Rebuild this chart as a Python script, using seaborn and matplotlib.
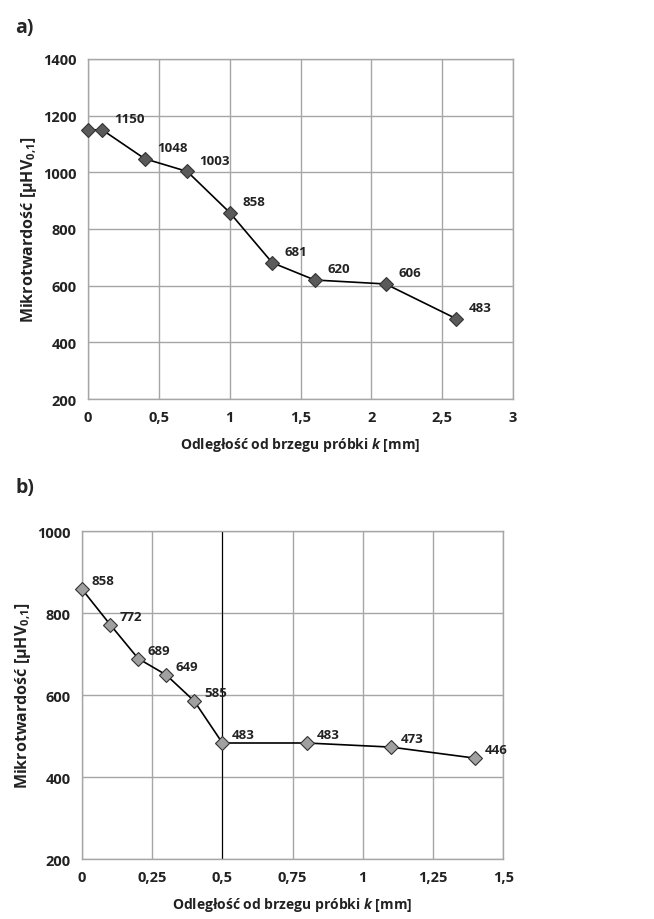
import pandas as pd
import seaborn as sns
import matplotlib.pyplot as plt

# panel a)
dist_a = [0, 0.1, 0.4, 0.7, 1.0, 1.3, 1.6, 2.1, 2.6]
hv_a = [1150, 1150, 1048, 1003, 858, 681, 620, 606, 483]
labels_a = ['', '1150', '1048', '1003', '858', '681', '620', '606', '483']
xticks_a = [0, 0.5, 1, 1.5, 2, 2.5, 3]
xticklabels_a = ['0', '0,5', '1', '1,5', '2', '2,5', '3']
yticks_a = [200, 400, 600, 800, 1000, 1200, 1400]

# panel b)
dist_b = [0, 0.1, 0.2, 0.3, 0.4, 0.5, 0.8, 1.1, 1.4]
hv_b = [858, 772, 689, 649, 585, 483, 483, 473, 446]
labels_b = ['858', '772', '689', '649', '585', '483', '483', '473', '446']
xticks_b = [0, 0.25, 0.5, 0.75, 1, 1.25, 1.5]
xticklabels_b = ['0', '0,25', '0,5', '0,75', '1', '1,25', '1,5']
yticks_b = [200, 400, 600, 800, 1000]

sns.set_style('whitegrid')
plt.rcParams['font.family'] = ['Open Sans', 'DejaVu Sans']
plt.rcParams['mathtext.fontset'] = 'custom'
plt.rcParams['mathtext.rm'] = 'Open Sans:bold'
plt.rcParams['mathtext.it'] = 'Open Sans:italic:bold'

fig = plt.figure(figsize=(6.54, 9.2), dpi=100)
ax_a = fig.add_axes([0.1346, 0.5652, 0.650, 0.3696])
ax_b = fig.add_axes([0.1254, 0.0652, 0.644, 0.3565])

ylabel = r'Mikrotwardość [μHV$_{\mathrm{0{,}1}}$]'
xlabel = r'Odległość od brzegu próbki $k$ [mm]'


def draw_panel(ax, x, y, labels, xticks, xticklabels, yticks, face, offset):
    df = pd.DataFrame({'x': x, 'y': y})
    sns.lineplot(data=df, x='x', y='y', ax=ax, color='black', lw=1.2,
                 marker='D', markersize=7, markerfacecolor=face,
                 markeredgecolor='#333333', markeredgewidth=0.8, clip_on=False,
                 zorder=5)
    for xi, yi, lab in zip(x, y, labels):
        if lab:
            ax.annotate(lab, (xi, yi), xytext=offset, textcoords='offset points',
                        ha='left', va='center', fontsize=9.5, fontweight='bold',
                        color='#222222')
    ax.set_xlim(xticks[0], xticks[-1])
    ax.set_ylim(yticks[0], yticks[-1])
    ax.set_xticks(xticks)
    ax.set_xticklabels(xticklabels)
    ax.set_yticks(yticks)
    ax.grid(True, color='#a6a6a6', lw=1.0)
    for sp in ax.spines.values():
        sp.set_color('#a6a6a6')
        sp.set_linewidth(1.0)
    ax.tick_params(axis='both', length=4, width=1.0, color='#a6a6a6',
                   labelsize=10.5, pad=4)
    for t in ax.get_xticklabels() + ax.get_yticklabels():
        t.set_fontweight('bold')
        t.set_color('#222222')
    ax.set_xlabel(xlabel, fontsize=10, fontweight='bold', color='#222222', labelpad=8)
    ax.set_ylabel(ylabel, fontsize=11.5, fontweight='bold', color='#222222', labelpad=3)


draw_panel(ax_a, dist_a, hv_a, labels_a, xticks_a, xticklabels_a, yticks_a,
           '#5a5a5a', (9, 8))
draw_panel(ax_b, dist_b, hv_b, labels_b, xticks_b, xticklabels_b, yticks_b,
           '#a0a0a0', (7, 6))
# panel b) has a dark gridline at 0,5 mm
ax_b.axvline(0.5, color='black', lw=0.8, zorder=1)

fig.text(0.023, 0.97, 'a)', fontsize=14, fontweight='bold', va='center')
fig.text(0.023, 0.47, 'b)', fontsize=14, fontweight='bold', va='center')

fig.savefig('out.png', dpi=100)
